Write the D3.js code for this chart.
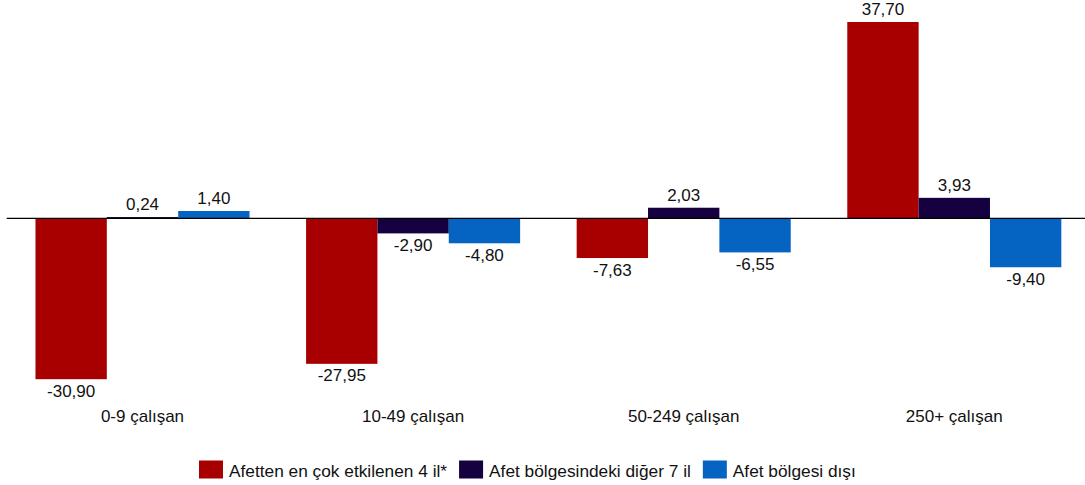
<!DOCTYPE html>
<html>
<head>
<meta charset="utf-8">
<script src="https://cdn.jsdelivr.net/npm/d3@7"></script>
<style>
  html, body { margin: 0; padding: 0; background: #fff; }
  svg { display: block; font-family: "Liberation Sans", Arial, sans-serif; }
</style>
</head>
<body>
<svg id="chart" width="1085" height="485"></svg>
<script>
const categories = ["0-9 çalışan", "10-49 çalışan", "50-249 çalışan", "250+ çalışan"];
const seriesNames = ["Afetten en çok etkilenen 4 il*", "Afet bölgesindeki diğer 7 il", "Afet bölgesi dışı"];
const seriesColors = ["#A80000", "#150040", "#0563C1"];
const affected4 = [-30.90, -27.95, -7.63, 37.70];
const other7 = [0.24, -2.90, 2.03, 3.93];
const outside = [1.40, -4.80, -6.55, -9.40];
const seriesValues = [affected4, other7, outside];

const svg = d3.select("#chart");
const W = 1085;
const fmt = v => v.toFixed(2).replace(".", ",");

const x0 = d3.scaleBand().domain(categories).range([7.2, 1089.6]).paddingInner(0.209).paddingOuter(0.1045);
const x1 = d3.scaleBand().domain(d3.range(seriesNames.length)).range([0, x0.bandwidth()]).padding(0);
const y = d3.scaleLinear().domain([-40, 40]).range([218.3 + 5.207 * 40, 218.3 - 5.207 * 40]);

const data = [];
categories.forEach((c, i) => {
  seriesValues.forEach((arr, s) => data.push({ c, s, v: arr[i] }));
});

const g = svg.append("g");
g.selectAll("rect.bar").data(data).enter().append("rect")
  .attr("class", "bar")
  .attr("x", d => x0(d.c) + x1(d.s))
  .attr("width", x1.bandwidth())
  .attr("y", d => y(Math.max(0, d.v)))
  .attr("height", d => Math.abs(y(d.v) - y(0)))
  .attr("fill", d => seriesColors[d.s]);

// zero line
g.append("line")
  .attr("x1", 6.7).attr("x2", W)
  .attr("y1", y(0)).attr("y2", y(0))
  .attr("stroke", "#000").attr("stroke-width", 1.2);

// value labels
g.selectAll("text.val").data(data).enter().append("text")
  .attr("class", "val")
  .attr("x", d => x0(d.c) + x1(d.s) + x1.bandwidth() / 2)
  .attr("y", d => d.v >= 0 ? y(d.v) - 7 : y(d.v) + 17.5)
  .attr("text-anchor", "middle")
  .attr("font-size", 17)
  .attr("fill", "#111")
  .text(d => fmt(d.v));

// category labels
g.selectAll("text.cat").data(categories).enter().append("text")
  .attr("class", "cat")
  .attr("x", d => x0(d) + x0.bandwidth() / 2)
  .attr("y", 422)
  .attr("text-anchor", "middle")
  .attr("font-size", 17)
  .attr("fill", "#111")
  .text(d => d);

// legend
const leg = svg.append("g").attr("transform", "translate(199,0)");
let cx = 0;
const sqW = 24, sqH = 18, gapT = 6, gapI = 12;
seriesNames.forEach((n, i) => {
  const it = leg.append("g").attr("transform", `translate(${cx},0)`);
  it.append("rect").attr("x", 0).attr("y", 460.5).attr("width", sqW).attr("height", sqH).attr("fill", seriesColors[i]);
  const t = it.append("text").attr("x", sqW + gapT).attr("y", 477).attr("font-size", 17.3).attr("fill", "#111").text(n);
  cx += sqW + gapT + t.node().getComputedTextLength() + gapI;
});
</script>
</body>
</html>
